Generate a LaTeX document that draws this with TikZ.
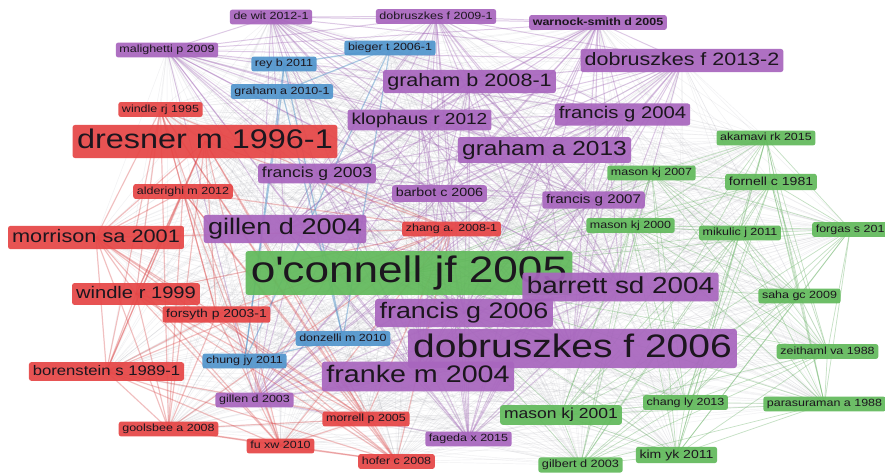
\documentclass[tikz,border=0pt]{standalone}
\usepackage{fontspec}
\setmainfont{Liberation Sans}[FakeStretch=1.2]
\usetikzlibrary{backgrounds}
\definecolor{cRed}{RGB}{230,70,70}
\definecolor{cPur}{RGB}{168,102,190}
\definecolor{cBlu}{RGB}{82,150,205}
\definecolor{cGrn}{RGB}{98,186,92}
\definecolor{cTxt}{RGB}{28,22,30}
\definecolor{cEdge}{RGB}{150,150,160}
\tikzset{
  lbl/.style={rounded corners=2.5pt, text=cTxt, fill opacity=0.93, text opacity=1},
  fs/.style={font=\fontsize{#1}{#1}\selectfont, text height={0.74*#1*1pt}, text depth={0.21*#1*1pt},
    inner ysep={(0.07*#1+1.8)*1pt}, inner xsep={(0.06*#1+3)*1pt}},
  pnode/.style={lbl, fill=cPur},
  rnode/.style={lbl, fill=cRed},
  gnode/.style={lbl, fill=cGrn},
  bnode/.style={lbl, fill=cBlu},
  grayedge/.style={cEdge, opacity=0.14, line width=0.45pt},
  pedge/.style={cPur, opacity=0.3, line width=1pt},
  redge/.style={cRed, opacity=0.3, line width=1.2pt},
  gedge/.style={cGrn, opacity=0.32, line width=0.7pt},
  bedge/.style={cBlu, opacity=0.45, line width=1.2pt},
}
\begin{document}
\begin{tikzpicture}[x=1pt,y=-1pt]
\useasboundingbox (0,0) rectangle (885,473);
% green (large first so overlapping labels lie above it)
\node[gnode,fs=36.8] (gA) at (409,273) {o\textquotesingle connell jf 2005};
% purple
\node[pnode,fs=10.4] (pA) at (271,17) {de wit 2012-1};
\node[pnode,fs=10.4] (pB) at (436,16.5) {dobruszkes f 2009-1};
\node[pnode,fs=10.4,font=\fontsize{10.4}{10.4}\selectfont\bfseries] (pC) at (598,22.5) {warnock-smith d 2005};
\node[pnode,fs=10.4] (pD) at (167,50) {malighetti p 2009};
\node[pnode,fs=18] (pE) at (469.5,81.5) {graham b 2008-1};
\node[pnode,fs=17.9] (pF) at (682,60.5) {dobruszkes f 2013-2};
\node[pnode,fs=15.9] (pG) at (419.5,120) {klophaus r 2012};
\node[pnode,fs=16.9] (pH) at (622.5,114.5) {francis g 2004};
\node[pnode,fs=20.4] (pI) at (544.5,150) {graham a 2013};
\node[pnode,fs=14.6] (pJ) at (317,173.5) {francis g 2003};
\node[pnode,fs=11.9] (pK) at (439.5,193.5) {barbot c 2006};
\node[pnode,fs=12.6] (pL) at (593.5,200) {francis g 2007};
\node[pnode,fs=22.6] (pM) at (285,229) {gillen d 2004};
\node[pnode,fs=23.2] (pN) at (620.5,287) {barrett sd 2004};
\node[pnode,fs=22.4] (pO) at (464,313) {francis g 2006};
\node[pnode,fs=32.5] (pP) at (572.5,348.5) {dobruszkes f 2006};
\node[pnode,fs=23.9] (pQ) at (418,376.5) {franke m 2004};
\node[pnode,fs=10.4] (pR) at (254.5,400) {gillen d 2003};
\node[pnode,fs=10.4] (pS) at (468.5,439) {fageda x 2015};
% blue
\node[bnode,fs=10.4] (bA) at (390,48) {bieger t 2006-1};
\node[bnode,fs=10.4] (bB) at (284,64) {rey b 2011};
\node[bnode,fs=10.4] (bC) at (282,91.5) {graham a 2010-1};
\node[bnode,fs=10.4] (bD) at (244.5,361) {chung jy 2011};
\node[bnode,fs=10.4] (bE) at (343,338.5) {donzelli m 2010};
% red
\node[rnode,fs=10.4] (rA) at (160.5,109.5) {windle rj 1995};
\node[rnode,fs=27] (rB) at (205,141.5) {dresner m 1996-1};
\node[rnode,fs=10.4] (rC) at (183,191.5) {alderighi m 2012};
\node[rnode,fs=18.1] (rD) at (96,237.5) {morrison sa 2001};
\node[rnode,fs=16.8] (rE) at (136,294) {windle r 1999};
\node[rnode,fs=11.6] (rF) at (216.5,314.5) {forsyth p 2003-1};
\node[rnode,fs=13.9] (rG) at (106.5,371.5) {borenstein s 1989-1};
\node[rnode,fs=10.4] (rH) at (168.5,429) {goolsbee a 2008};
\node[rnode,fs=10.4] (rI) at (280.5,446) {fu xw 2010};
\node[rnode,fs=10.4] (rJ) at (366,419) {morrell p 2005};
\node[rnode,fs=10.4] (rK) at (396.5,461.5) {hofer c 2008};
\node[rnode,fs=10.4] (rL) at (451.5,229) {zhang a. 2008-1};
% green
\node[gnode,fs=10.4] (gB) at (766,138) {akamavi rk 2015};
\node[gnode,fs=10.4] (gC) at (651.5,173) {mason kj 2007};
\node[gnode,fs=11.7] (gD) at (771,182) {fornell c 1981};
\node[gnode,fs=10.4] (gE) at (630.5,225.5) {mason kj 2000};
\node[gnode,fs=10.4] (gF) at (740,233) {mikulic j 2011};
\node[gnode,fs=10.4,anchor=west] (gG) at (812,229.5) {forgas s 201};
\node[gnode,fs=10.4] (gH) at (799.5,296) {saha gc 2009};
\node[gnode,fs=10.4] (gI) at (827.5,351.5) {zeithaml va 1988};
\node[gnode,fs=10.4] (gJ) at (824.5,404) {parasuraman a 1988};
\node[gnode,fs=10.4] (gK) at (685.5,402.5) {chang ly 2013};
\node[gnode,fs=14.6] (gL) at (561,415) {mason kj 2001};
\node[gnode,fs=11.7] (gM) at (676.5,455) {kim yk 2011};
\node[gnode,fs=10.6] (gN) at (580.5,465) {gilbert d 2003};

\def\allN{pA,pB,pC,pD,pE,pF,pG,pH,pI,pJ,pK,pL,pM,pN,pO,pP,pQ,pR,pS,bA,bB,bC,bD,bE,rA,rB,rC,rD,rE,rF,rG,rH,rI,rJ,rK,rL,gA,gB,gC,gD,gE,gF,gG,gH,gI,gJ,gK,gL,gM,gN}
\def\purN{pA,pB,pC,pD,pE,pF,pG,pH,pI,pJ,pK,pL,pM,pN,pO,pP,pQ,pR,pS}
\def\redN{rA,rB,rC,rD,rE,rF,rG,rH,rI,rJ,rK,rL}
\def\grnN{gA,gB,gC,gD,gE,gF,gG,gH,gI,gJ,gK,gL,gM,gN}
\def\bluN{bA,bB,bC,bD,bE}
\begin{scope}[on background layer]
\fill[white] (0,0) rectangle (885,473);
\foreach \a [count=\i] in \allN {
  \foreach \b [count=\j] in \allN {
    \ifnum\j>\i \draw[grayedge] (\a.center) -- (\b.center); \fi
  }
}
\foreach \a [count=\i] in \purN {
  \foreach \b [count=\j] in \purN {
    \ifnum\j>\i \draw[pedge] (\a.center) -- (\b.center); \fi
  }
}
\foreach \a [count=\i] in \redN {
  \foreach \b [count=\j] in \redN {
    \ifnum\j>\i \draw[redge] (\a.center) -- (\b.center); \fi
  }
}
\foreach \a [count=\i] in \grnN {
  \foreach \b [count=\j] in \grnN {
    \ifnum\j>\i \draw[gedge] (\a.center) -- (\b.center); \fi
  }
}
\foreach \a [count=\i] in \bluN {
  \foreach \b [count=\j] in \bluN {
    \ifnum\j>\i \draw[bedge] (\a.center) -- (\b.center); \fi
  }
}
\end{scope}
\end{tikzpicture}
\end{document}
